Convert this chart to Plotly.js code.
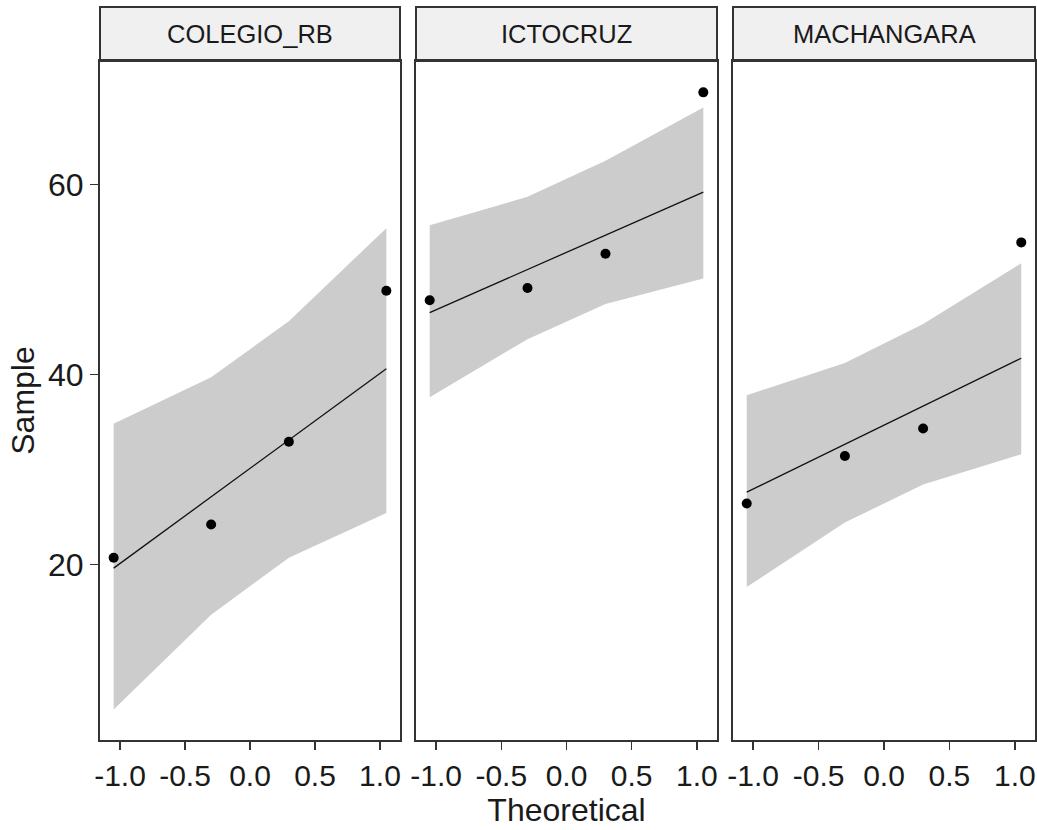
<!DOCTYPE html>
<html>
<head>
<meta charset="utf-8">
<script src="https://cdn.plot.ly/plotly-3.0.1.min.js"></script>
<style>
  html, body { margin: 0; padding: 0; background: #ffffff; }
  #chart { width: 1037px; height: 830px; }
</style>
</head>
<body>
<div id="chart"></div>
<script>
// ---- Data ----
const panels = ["COLEGIO_RB", "ICTOCRUZ", "MACHANGARA"];
const theoretical = [-1.049, -0.299, 0.299, 1.049];

const sampleColegio = [20.7, 24.2, 32.9, 48.8];
const sampleIctocruz = [47.8, 49.1, 52.7, 69.7];
const sampleMachangara = [26.4, 31.4, 34.3, 53.9];

const lineColegio = [19.6, 40.6];
const lineIctocruz = [46.5, 59.2];
const lineMachangara = [27.6, 41.7];

const upperColegio = [34.8, 39.7, 45.6, 55.4];
const lowerColegio = [4.7, 14.7, 20.7, 25.4];
const upperIctocruz = [55.7, 58.7, 62.5, 68.1];
const lowerIctocruz = [37.6, 43.7, 47.4, 50.1];
const upperMachangara = [37.8, 41.2, 45.3, 51.7];
const lowerMachangara = [17.6, 24.4, 28.4, 31.6];

const xTickVals = [-1, -0.5, 0, 0.5, 1];
const xTickText = ["-1.0", "-0.5", "0.0", "0.5", "1.0"];
const yTickVals = [20, 40, 60];
const yTickText = ["20", "40", "60"];

// ---- Build traces ----
const samples = [sampleColegio, sampleIctocruz, sampleMachangara];
const lines = [lineColegio, lineIctocruz, lineMachangara];
const uppers = [upperColegio, upperIctocruz, upperMachangara];
const lowers = [lowerColegio, lowerIctocruz, lowerMachangara];

const traces = [];
panels.forEach((name, i) => {
  const xa = i === 0 ? "x" : "x" + (i + 1);
  const ya = i === 0 ? "y" : "y" + (i + 1);
  const tx = theoretical.slice();
  traces.push({
    type: "scatter", mode: "lines", xaxis: xa, yaxis: ya,
    x: tx.concat(tx.slice().reverse()),
    y: uppers[i].concat(lowers[i].slice().reverse()),
    fill: "toself", fillcolor: "#cccccc",
    line: { width: 0, color: "#cccccc" },
    hoverinfo: "skip", showlegend: false
  });
  traces.push({
    type: "scatter", mode: "lines", xaxis: xa, yaxis: ya,
    x: [theoretical[0], theoretical[theoretical.length - 1]],
    y: lines[i],
    line: { color: "#111111", width: 1.3 },
    showlegend: false
  });
  traces.push({
    type: "scatter", mode: "markers", xaxis: xa, yaxis: ya,
    x: theoretical, y: samples[i],
    marker: { color: "#000000", size: 10 },
    showlegend: false, name: name
  });
});

// ---- Layout ----
const W = 1037, H = 830;
const panelPx = [[100, 400], [416, 717], [733, 1035]];
const plotTop = 61, plotBottom = 740, stripTop = 7;
const yDom = [(H - plotBottom) / H, (H - plotTop) / H];
const font = "Liberation Sans, Arial, sans-serif";
const edge = "#333333";
const txt = "#1a1a1a";

function xAxis(i) {
  return {
    domain: [panelPx[i][0] / W, panelPx[i][1] / W],
    anchor: i === 0 ? "y" : "y" + (i + 1),
    range: [-1.154, 1.154],
    tickvals: xTickVals, ticktext: xTickText,
    ticks: "outside", ticklen: 8, tickwidth: 1.5, tickcolor: edge,
    showline: true, mirror: true, linecolor: edge, linewidth: 2,
    showgrid: false, zeroline: false,
    tickfont: { family: font, size: 30, color: txt }
  };
}
function yAxis(i) {
  return {
    domain: yDom,
    anchor: i === 0 ? "x" : "x" + (i + 1),
    range: [1.5, 73.0],
    tickvals: yTickVals, ticktext: yTickText,
    ticks: i === 0 ? "outside" : "",
    showticklabels: i === 0,
    ticklen: 8, tickwidth: 1.5, tickcolor: edge,
    showline: true, mirror: true, linecolor: edge, linewidth: 2,
    showgrid: false, zeroline: false,
    tickfont: { family: font, size: 32, color: txt }
  };
}

const layout = {
  width: W, height: H,
  margin: { l: 0, r: 0, t: 0, b: 0 },
  paper_bgcolor: "#ffffff", plot_bgcolor: "#ffffff",
  showlegend: false,
  font: { family: font, color: txt },
  xaxis: xAxis(0), xaxis2: xAxis(1), xaxis3: xAxis(2),
  yaxis: yAxis(0), yaxis2: yAxis(1), yaxis3: yAxis(2),
  shapes: [], annotations: []
};
layout.xaxis2.title = { text: "Theoretical", font: { family: font, size: 32, color: txt }, standoff: 8 };
layout.yaxis.title = { text: "Sample", font: { family: font, size: 32, color: txt }, standoff: 4 };

panels.forEach((name, i) => {
  const x0 = panelPx[i][0] / W, x1 = panelPx[i][1] / W;
  layout.shapes.push({
    type: "rect", xref: "paper", yref: "paper",
    x0: x0, x1: x1, y0: (H - plotTop) / H, y1: (H - stripTop) / H,
    fillcolor: "#f0f0f0", line: { color: edge, width: 2 }, layer: "below"
  });
  layout.annotations.push({
    xref: "paper", yref: "paper", x: (x0 + x1) / 2, y: (H - (plotTop + stripTop) / 2) / H,
    xanchor: "center", yanchor: "middle", showarrow: false,
    text: name, font: { family: font, size: 25.5, color: txt }
  });
});

Plotly.newPlot("chart", traces, layout, { displayModeBar: false, staticPlot: true });
</script>
</body>
</html>
